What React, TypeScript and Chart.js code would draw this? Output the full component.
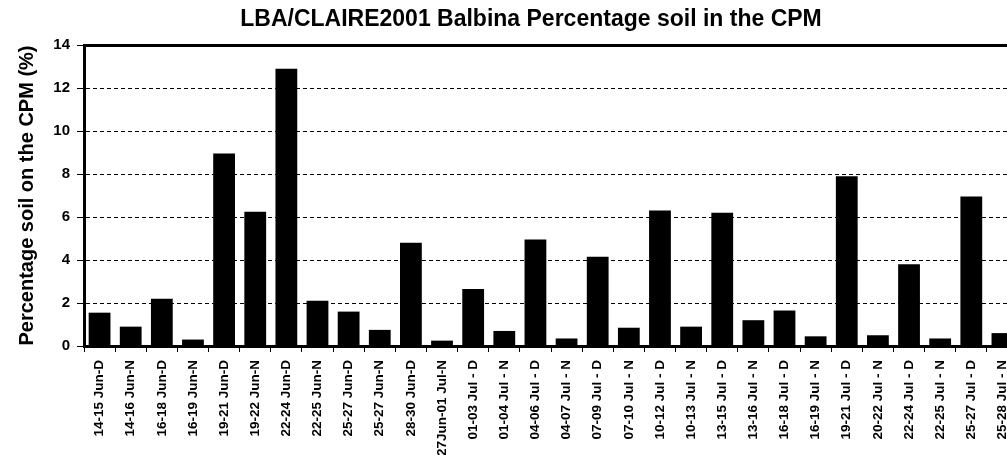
import React, { useEffect, useRef } from "react";
import { Chart, registerables } from "chart.js";

Chart.register(...registerables);

const categories: string[] = [
  "14-15 Jun-D", "14-16 Jun-N", "16-18 Jun-D", "16-19 Jun-N", "19-21 Jun-D",
  "19-22 Jun-N", "22-24 Jun-D", "22-25 Jun-N", "25-27 Jun-D", "25-27 Jun-N",
  "28-30 Jun-D", "27Jun-01 Jul-N", "01-03 Jul - D", "01-04 Jul - N", "04-06 Jul - D",
  "04-07 Jul - N", "07-09 Jul - D", "07-10 Jul - N", "10-12 Jul - D", "10-13 Jul - N",
  "13-15 Jul - D", "13-16 Jul - N", "16-18 Jul - D", "16-19 Jul - N", "19-21 Jul - D",
  "20-22 Jul - N", "22-24 Jul - D", "22-25 Jul - N", "25-27 Jul - D", "25-28 Jul - N",
];

const soilPercent: number[] = [
  1.55, 0.9, 2.2, 0.3, 8.95, 6.25, 12.9, 2.1, 1.6, 0.75,
  4.8, 0.25, 2.65, 0.7, 4.95, 0.35, 4.15, 0.85, 6.3, 0.9,
  6.2, 1.2, 1.65, 0.45, 7.9, 0.5, 3.8, 0.35, 6.95, 0.6,
];

const yTicks: number[] = [0, 2, 4, 6, 8, 10, 12, 14];

const titleText = "LBA/CLAIRE2001 Balbina Percentage soil in the CPM";
const yTitleText = "Percentage soil on the CPM (%)";

const FONT = "'Liberation Sans', Arial, Helvetica, sans-serif";

export default function App() {
  const ref = useRef<HTMLCanvasElement | null>(null);

  useEffect(() => {
    if (!ref.current) return;
    const chart = new Chart(ref.current, {
      type: "bar",
      data: {
        labels: categories,
        datasets: [
          {
            label: "Percentage soil",
            data: soilPercent,
            backgroundColor: "#000000",
            borderWidth: 0,
            barPercentage: 0.7,
            categoryPercentage: 1,
          },
        ],
      },
      options: {
        responsive: false,
        animation: false,
        devicePixelRatio: 1,
        layout: { padding: 0 },
        plugins: {
          legend: { display: false },
          tooltip: { enabled: false },
          title: {
            display: true,
            text: titleText,
            color: "#000000",
            font: { family: FONT, size: 23, weight: "bold" },
            padding: { top: 6, bottom: 11.4 },
          },
        },
        scales: {
          x: {
            type: "category",
            offset: true,
            grid: {
              display: true,
              drawOnChartArea: false,
              drawTicks: true,
              offset: true,
              tickLength: 6,
              color: "#000000",
              tickColor: "#000000",
              tickWidth: 1,
            },
            border: { display: true, color: "#000000", width: 3 },
            ticks: {
              autoSkip: false,
              maxRotation: 90,
              minRotation: 90,
              padding: 8,
              color: "#000000",
              font: { family: FONT, size: 13.5, weight: "bold" },
            },
            afterFit: (s: any) => {
              s.height = 109;
            },
          },
          y: {
            type: "linear",
            position: "left",
            min: 0,
            max: 14,
            afterBuildTicks: (s: any) => {
              s.ticks = yTicks.map((v) => ({ value: v }));
            },
            grid: {
              display: true,
              drawOnChartArea: true,
              drawTicks: true,
              tickLength: 7,
              color: "#000000",
              tickColor: "#000000",
              tickWidth: 1,
              lineWidth: (ctx: any) => (ctx.tick && ctx.tick.value === 14 ? 3 : 1),
            },
            border: {
              display: true,
              color: "#000000",
              width: 3,
              dash: (ctx: any) => (ctx.tick && ctx.tick.value === 14 ? [] : [4, 3]),
            },
            ticks: {
              padding: 7,
              color: "#000000",
              font: { family: FONT, size: 15, weight: "bold" },
            },
            title: {
              display: true,
              text: yTitleText,
              color: "#000000",
              font: { family: FONT, size: 20, weight: "bold" },
              padding: { top: 15, bottom: 0 },
            },
            afterFit: (s: any) => {
              s.width = 84;
            },
          },
          yR: {
            type: "linear",
            position: "right",
            display: true,
            grid: { display: false, drawTicks: false },
            border: { display: false },
            ticks: { display: false },
            afterFit: (s: any) => {
              s.width = 44;
            },
          },
        },
      },
    });
    return () => chart.destroy();
  }, []);

  return (
    <div
      style={{
        position: "fixed",
        left: 0,
        top: 0,
        width: 1007,
        height: 455,
        overflow: "hidden",
        background: "#ffffff",
      }}
    >
      <canvas ref={ref} width={1062} height={455} style={{ display: "block", width: 1062, height: 455 }} />
    </div>
  );
}
